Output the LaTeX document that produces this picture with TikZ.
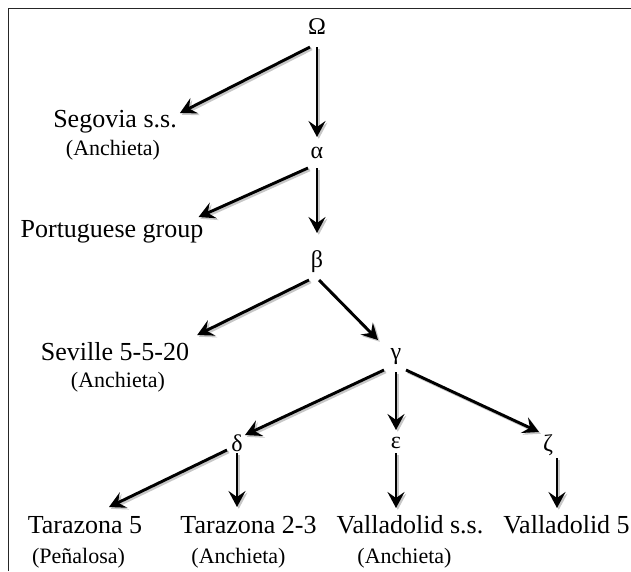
\documentclass[tikz,border=0pt]{standalone}
\usepackage{fontspec}
\setmainfont{Liberation Serif}
\usetikzlibrary{arrows.meta,calc}
\tikzset{
  lbl/.style={anchor=base, inner sep=0pt, font=\fontsize{26}{30}\selectfont},
  sub/.style={anchor=base, inner sep=0pt, font=\fontsize{22}{26}\selectfont},
  greek/.style={inner sep=0pt, font=\fontsize{24}{28}\selectfont},
  arr/.style={line width=2.9pt, -{Stealth[length=16pt,width=17pt,inset=6pt]}},
  shadowarr/.style={arr, draw=black!22, transform canvas={shift={(1.8pt,-1.8pt)}}},
  frame/.style={line width=1.1pt, draw=black!85},
}
\newcommand{\myarrow}[2]{\draw[shadowarr] #1 -- #2; \draw[arr] #1 -- #2;}
\begin{document}
\begin{tikzpicture}[x=1pt,y=-1pt]
\useasboundingbox (0,0) rectangle (631,571);
\draw[frame] (8.5,571) -- (8.5,8.5) -- (631,8.5);
% greek nodes
\node[greek] (O) at (317,27) {Ω};
\node[greek] (a) at (317,153) {α};
\node[greek] (b) at (317,262) {β};
\node[greek] (g) at (396,357) {γ};
\node[greek] (d) at (237,443) {δ};
\node[greek] (e) at (396,443) {ε};
\node[greek] (z) at (548,445) {ζ};
% labels
\node[lbl] (seg) at (115,127) {Segovia s.s.};
\node[sub] (segA) at (113,155) {(Anchieta)};
\node[lbl] (port) at (112,237) {Portuguese group};
\node[lbl] (sev) at (115,360) {Seville 5-5-20};
\node[sub] (sevA) at (118,387) {(Anchieta)};
\node[lbl] (t5) at (85,533) {Tarazona 5};
\node[sub] (t5A) at (78.5,563) {(Peñalosa)};
\node[lbl] (t23) at (248.5,533) {Tarazona 2-3};
\node[sub] (t23A) at (238.5,563) {(Anchieta)};
\node[lbl] (vss) at (410,533) {Valladolid s.s.};
\node[sub] (vssA) at (404.5,563) {(Anchieta)};
\node[lbl] (v5) at (566.5,533) {Valladolid 5};
% connectors
\myarrow{($(O)+(0,20)$)}{($(a)+(0,-16)$)}
\myarrow{($(O)+(-7,20)$)}{($(seg.base east)+(3,-14)$)}
\myarrow{($(a)+(-9,15)$)}{($(port.base east)+(-5,-20)$)}
\myarrow{($(a)+(0,15)$)}{($(b)+(0,-29)$)}
\myarrow{($(b)+(-8,18)$)}{($(sev.base east)+(8,-25)$)}
\myarrow{($(b)+(2,18)$)}{($(g)+(-18,-17)$)}
\myarrow{($(g)+(-12,13)$)}{($(d)+(8,-8)$)}
\myarrow{($(g)+(0,15)$)}{($(e)+(0,-13)$)}
\myarrow{($(g)+(10,13)$)}{($(z)+(-9,-13)$)}
\myarrow{($(d)+(-10,7)$)}{($(t5.base)+(24,-26)$)}
\myarrow{($(d)+(0,10)$)}{($(d |- t23.base)+(0,-26)$)}
\myarrow{($(e)+(0,10)$)}{($(e |- vss.base)+(0,-25)$)}
\myarrow{($(z)+(9,13)$)}{($(z |- v5.base)+(9,-25)$)}
\end{tikzpicture}
\end{document}
